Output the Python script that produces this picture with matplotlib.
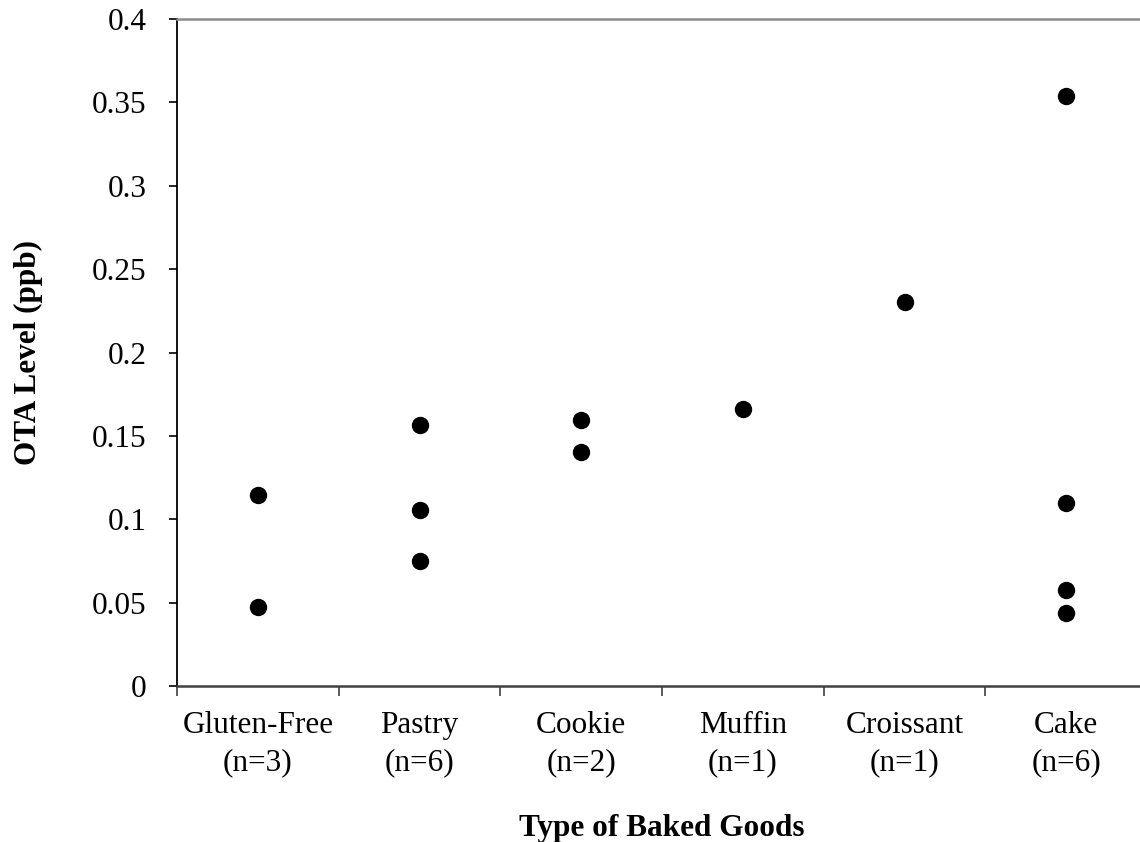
import numpy as np
from matplotlib import pyplot as plt

# categories and the OTA values (ppb)
categories = ["Gluten-Free\n(n=3)", "Pastry\n(n=6)", "Cookie\n(n=2)",
              "Muffin\n(n=1)", "Croissant\n(n=1)", "Cake\n(n=6)"]
gluten_free = [0.1145, 0.0474]
pastry = [0.1565, 0.1055, 0.075]
cookie = [0.1595, 0.1403]
muffin = [0.166]
croissant = [0.230]
cake = [0.354, 0.110, 0.0576, 0.0438]
yticks = [0, 0.05, 0.1, 0.15, 0.2, 0.25, 0.3, 0.35, 0.4]
ytick_labels = ["0", "0.05", "0.1", "0.15", "0.2", "0.25", "0.3", "0.35", "0.4"]


def main():
    plt.rcParams['font.family'] = ['Liberation Serif', 'DejaVu Serif']
    fs = 22.5
    fig = plt.figure(figsize=(11.4, 8.42), dpi=100)
    # axes runs a bit past the right edge of the picture, like the original
    ax = fig.add_axes([177/1140, 156/842, 970/1140, 667/842])

    groups = [gluten_free, pastry, cookie, muffin, croissant, cake]
    for i, vals in enumerate(groups):
        ax.plot([i]*len(vals), vals, 'o', color='black', markersize=11.5, clip_on=False)

    ax.set_xlim(-0.5, 5.5)
    ax.set_ylim(0, 0.4)

    ax.set_xticks(range(len(categories)))
    ax.set_xticklabels(categories, fontsize=fs, linespacing=1.37)
    ax.set_xticks(np.arange(-0.5, 6, 1), minor=True)
    ax.tick_params(axis='x', which='major', length=0, pad=18)
    ax.tick_params(axis='x', which='minor', length=7, width=1.2, direction='out', color='#404040')

    ax.set_yticks(yticks)
    ax.set_yticklabels(ytick_labels, fontsize=fs)
    ax.tick_params(axis='y', length=6, width=1.2, direction='out', pad=16)

    ax.spines['right'].set_visible(False)
    ax.spines['top'].set_color('#8c8c8c')
    ax.spines['top'].set_linewidth(1.8)
    ax.spines['left'].set_color('black')
    ax.spines['left'].set_linewidth(1.3)
    ax.spines['bottom'].set_color('#404040')
    ax.spines['bottom'].set_linewidth(1.8)

    ax.set_ylabel("OTA Level (ppb)", fontsize=fs, fontweight='bold')
    ax.yaxis.set_label_coords(-(177-28)/970, 0.5)
    ax.yaxis.label.set_va('center')
    ax.set_xlabel("Type of Baked Goods", fontsize=fs, fontweight='bold')
    ax.xaxis.set_label_coords(0.5, -(836-686)/667)
    ax.xaxis.label.set_va('baseline')

    fig.savefig("out.png", dpi=100)


if __name__ == '__main__':
    main()
